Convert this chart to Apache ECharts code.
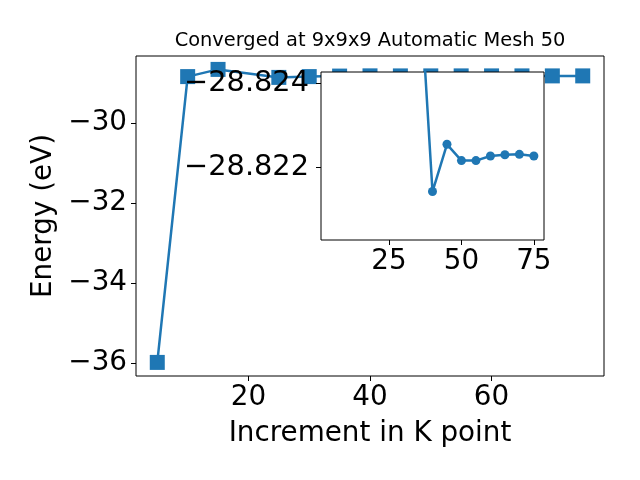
<!DOCTYPE html>
<html><head><meta charset="utf-8">
<script src="https://cdn.jsdelivr.net/npm/echarts@6/dist/echarts.min.js"></script>
<style>html,body{margin:0;padding:0;background:#fff}#c{width:640px;height:480px}</style>
</head><body><div id="c"></div>
<script>
// ---- data ----
const kpoints = [5, 10, 15, 25, 30, 35, 40, 45, 50, 55, 60, 65, 70, 75];
const energies = [-35.985, -28.84, -28.66, -28.86, -28.84, -28.8271, -28.82142, -28.82255, -28.82216, -28.82216, -28.82227, -28.8223, -28.82231, -28.82227];
const insetStartIndex = 5; // inset shows data from k = 35 on
const mainXTicks = [20, 40, 60];
const mainYTicks = [-36, -34, -32, -30];
const insetXTicks = [25, 50, 75];
const insetYTicks = [-28.824, -28.822];
const titleText = 'Converged at 9x9x9 Automatic Mesh 50';
const xName = 'Increment in K point';
const yName = 'Energy (eV)';

// ---- build ----
const C = '#1f77b4';
const FONT = 'DejaVu Sans';
const mainData = kpoints.map((k, i) => [k, energies[i]]);
const insetData = kpoints.slice(insetStartIndex).map((k, i) => [k, energies[insetStartIndex + i]]);
const minus = s => String(s).replace('-', '\u2212');

const chart = echarts.init(document.getElementById('c'), null, {renderer: 'canvas'});
const tickStyle = {color: '#000', width: 1};
chart.setOption({
  animation: false,
  backgroundColor: '#fff',
  title: {
    text: titleText, left: 370, top: 31, padding: 0, textAlign: 'center',
    textStyle: {fontFamily: FONT, fontSize: 19.4, fontWeight: 'normal', color: '#000'}
  },
  grid: [
    {left: 136, top: 56, width: 468, height: 320, show: true, borderColor: '#000', borderWidth: 1, backgroundColor: '#fff', z: 0},
    {left: 321, top: 72, width: 223, height: 168, show: true, borderColor: '#000', borderWidth: 1, backgroundColor: '#fff', z: 9}
  ],
  xAxis: [
    {
      type: 'value', gridIndex: 0, min: 1.5, max: 78.5,
      name: xName, nameLocation: 'middle', nameGap: 44,
      nameTextStyle: {fontFamily: FONT, fontSize: 27.8, color: '#000'},
      axisLine: {show: false}, splitLine: {show: false},
      axisTick: {show: true, length: 5, customValues: mainXTicks, lineStyle: tickStyle},
      axisLabel: {customValues: mainXTicks, margin: 8, fontFamily: FONT, fontSize: 27.8, color: '#000', formatter: v => minus(v)}
    },
    {
      type: 'value', gridIndex: 1, min: 1.5, max: 78.5, z: 10,
      axisLine: {show: false}, splitLine: {show: false},
      axisTick: {show: true, length: 5, customValues: insetXTicks, lineStyle: tickStyle},
      axisLabel: {customValues: insetXTicks, margin: 8, fontFamily: FONT, fontSize: 27.8, color: '#000', formatter: v => minus(v)}
    }
  ],
  yAxis: [
    {
      type: 'value', gridIndex: 0, min: -36.325, max: -28.325,
      name: yName, nameLocation: 'middle', nameGap: 76,
      nameTextStyle: {fontFamily: FONT, fontSize: 27.8, color: '#000'},
      axisLine: {show: false}, splitLine: {show: false},
      axisTick: {show: true, length: 5, customValues: mainYTicks, lineStyle: tickStyle},
      axisLabel: {customValues: mainYTicks, margin: 9, fontFamily: FONT, fontSize: 27.8, color: '#000', formatter: v => minus(v)}
    },
    {
      type: 'value', gridIndex: 1, min: -28.82428, max: -28.82026, inverse: true, z: 10,
      axisLine: {show: false}, splitLine: {show: false},
      axisTick: {show: true, length: 5, customValues: insetYTicks, lineStyle: tickStyle},
      axisLabel: {customValues: insetYTicks, margin: 12, fontFamily: FONT, fontSize: 28.8, color: '#000', formatter: v => minus(v.toFixed(3))}
    }
  ],
  series: [
    {
      type: 'line', xAxisIndex: 0, yAxisIndex: 0, data: mainData, z: 2,
      symbol: 'rect', symbolSize: 15, showAllSymbol: true,
      lineStyle: {color: C, width: 2.5}, itemStyle: {color: C}
    },
    {
      type: 'line', xAxisIndex: 1, yAxisIndex: 1, data: insetData, z: 11, clip: true,
      symbol: 'circle', symbolSize: 9, showAllSymbol: true,
      lineStyle: {color: C, width: 2.5}, itemStyle: {color: C}
    }
  ]
});
</script>
</body></html>
